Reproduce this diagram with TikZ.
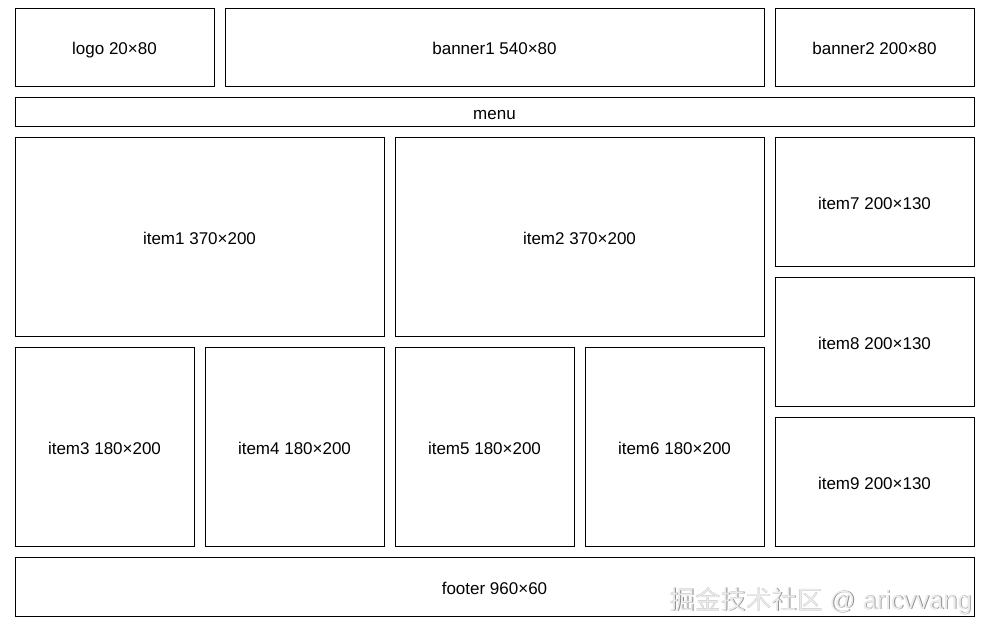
\documentclass[tikz,border=0pt]{standalone}
\usepackage{fontspec}
\setmainfont{Liberation Sans}
\newfontfamily\cjk{Noto Sans CJK SC}
\begin{document}
\begin{tikzpicture}[x=1pt,y=-1pt,
  blk/.style={draw=black,line width=1pt,fill=white},
  lbl/.style={font=\fontsize{17}{20}\selectfont,text=black,inner sep=0pt,anchor=base}]
\fill[white] (0,0) rectangle (990,637);
\useasboundingbox (0,0) rectangle (990,637);
% blocks
\draw[blk] (15,8) rectangle (214,86);
\node[lbl] (logo) at (114.5,54.5) {logo 20×80};
\draw[blk] (225,8) rectangle (764,86);
\node[lbl] (banner1) at (494.5,54.5) {banner1 540×80};
\draw[blk] (775,8) rectangle (974,86);
\node[lbl] (banner2) at (874.5,54.5) {banner2 200×80};
\draw[blk] (15,97) rectangle (974,126);
\node[lbl] (menu) at (494.5,119) {menu};
\draw[blk] (15,137) rectangle (384,336);
\node[lbl] (item1) at (199.5,244) {item1 370×200};
\draw[blk] (395,137) rectangle (764,336);
\node[lbl] (item2) at (579.5,244) {item2 370×200};
\draw[blk] (775,137) rectangle (974,266);
\node[lbl] (item7) at (874.5,209) {item7 200×130};
\draw[blk] (775,277) rectangle (974,406);
\node[lbl] (item8) at (874.5,349) {item8 200×130};
\draw[blk] (775,417) rectangle (974,546);
\node[lbl] (item9) at (874.5,489) {item9 200×130};
\draw[blk] (15,347) rectangle (194,546);
\node[lbl] (item3) at (104.5,454) {item3 180×200};
\draw[blk] (205,347) rectangle (384,546);
\node[lbl] (item4) at (294.5,454) {item4 180×200};
\draw[blk] (395,347) rectangle (574,546);
\node[lbl] (item5) at (484.5,454) {item5 180×200};
\draw[blk] (585,347) rectangle (764,546);
\node[lbl] (item6) at (674.5,454) {item6 180×200};
\draw[blk] (15,557) rectangle (974,616);
\node[lbl] (footer) at (494.5,594) {footer 960×60};
% watermark
\node[inner sep=0pt,anchor=east,text=black!45,font=\fontsize{25.5}{30}\selectfont] (wm2) at (972.8,601.8) {{\cjk 掘金技术社区} @ aricvvang};
\node[inner sep=0pt,anchor=east,text=black!8,font=\fontsize{25.5}{30}\selectfont] (wm) at (972,601) {{\cjk 掘金技术社区} @ aricvvang};
\end{tikzpicture}
\end{document}
